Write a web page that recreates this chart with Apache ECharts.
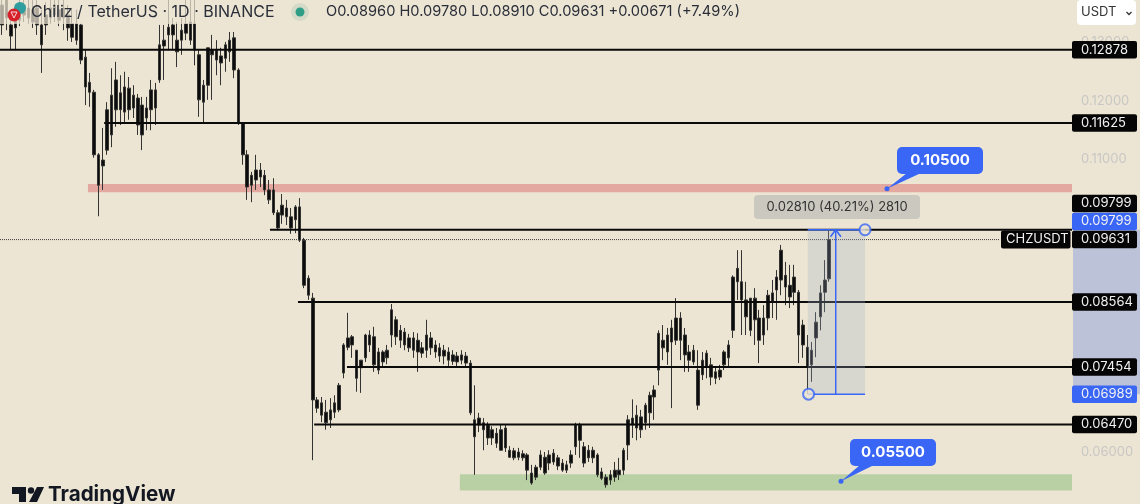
<!DOCTYPE html>
<html>
<head>
<meta charset="utf-8">
<style>
html, body { margin: 0; padding: 0; background: #ece5d3; }
#chart { width: 1140px; height: 504px; }
</style>
<script src="https://cdn.jsdelivr.net/npm/echarts@6/dist/echarts.min.js"></script>
</head>
<body>
<div id="chart"></div>
<script>
// daily candles
var open = [
  0.1364,0.1373,0.1330,0.1342,0.1338,0.1347,0.1359,0.1335,0.1359,0.1330,
  0.1330,0.1342,0.1364,0.1338,0.1359,0.1347,0.1332,0.1332,0.1330,0.1275,
  0.1232,0.1215,0.1108,0.1089,0.1116,0.1142,0.1185,0.1214,0.1181,0.1222,
  0.1188,0.1205,0.1193,0.1171,0.1185,0.1219,0.1236,0.1294,0.1313,0.1330,
  0.1304,0.1304,0.1316,0.1335,0.1332,0.1279,0.1198,0.1227,0.1279,0.1287,
  0.1277,0.1273,0.1284,0.1308,0.1253,0.1162,0.1108,0.1056,0.1065,0.1082,
  0.1073,0.1048,0.1048,0.1009,0.1005,0.1017,0.1002,0.0997,0.1019,0.0962,
  0.0897,0.0863,0.0689,0.0663,0.0668,0.0655,0.0668,0.0672,0.0735,0.0779,
  0.0797,0.0774,0.0744,0.0761,0.0800,0.0797,0.0771,0.0754,0.0761,0.0800,
  0.0826,0.0808,0.0805,0.0795,0.0795,0.0771,0.0778,0.0774,0.0795,0.0783,
  0.0778,0.0764,0.0771,0.0755,0.0764,0.0757,0.0764,0.0752,0.0655,0.0646,
  0.0650,0.0646,0.0624,0.0632,0.0638,0.0607,0.0603,0.0590,0.0600,0.0597,
  0.0595,0.0564,0.0557,0.0574,0.0591,0.0581,0.0583,0.0590,0.0581,0.0569,
  0.0581,0.0609,0.0646,0.0609,0.0590,0.0603,0.0595,0.0566,0.0557,0.0552,
  0.0557,0.0561,0.0569,0.0612,0.0646,0.0663,0.0638,0.0650,0.0667,0.0694,
  0.0740,0.0791,0.0771,0.0812,0.0791,0.0829,0.0800,0.0771,0.0754,0.0740,
  0.0732,0.0745,0.0749,0.0737,0.0728,0.0749,0.0761,0.0808,0.0891,0.0891,
  0.0860,0.0808,0.0863,0.0829,0.0800,0.0829,0.0856,0.0877,0.0894,0.0902,
  0.0885,0.0873,0.0873,0.0817,0.0779,0.0749,0.0795,0.0831,0.0873,0.0896
];
var close = [
  0.1330,0.1342,0.1311,0.1325,0.1356,0.1364,0.1342,0.1356,0.1330,0.1296,
  0.1347,0.1359,0.1347,0.1356,0.1342,0.1325,0.1309,0.1304,0.1270,0.1224,
  0.1215,0.1108,0.1056,0.1099,0.1185,0.1210,0.1236,0.1185,0.1224,0.1185,
  0.1210,0.1159,0.1142,0.1188,0.1219,0.1188,0.1296,0.1304,0.1326,0.1313,
  0.1284,0.1321,0.1332,0.1304,0.1287,0.1202,0.1227,0.1291,0.1287,0.1270,
  0.1265,0.1296,0.1304,0.1253,0.1162,0.1108,0.1053,0.1073,0.1082,0.1070,
  0.1048,0.1031,0.1009,0.0983,0.1022,0.1002,0.0983,0.1019,0.0962,0.0885,
  0.0868,0.0689,0.0675,0.0684,0.0650,0.0672,0.0684,0.0714,0.0783,0.0795,
  0.0783,0.0726,0.0757,0.0800,0.0783,0.0749,0.0740,0.0771,0.0774,0.0843,
  0.0797,0.0791,0.0783,0.0778,0.0774,0.0791,0.0769,0.0800,0.0778,0.0771,
  0.0764,0.0774,0.0757,0.0766,0.0754,0.0766,0.0752,0.0667,0.0626,0.0658,
  0.0638,0.0624,0.0638,0.0615,0.0603,0.0641,0.0591,0.0602,0.0591,0.0590,
  0.0569,0.0547,0.0574,0.0595,0.0564,0.0595,0.0598,0.0576,0.0569,0.0578,
  0.0595,0.0646,0.0620,0.0581,0.0603,0.0590,0.0561,0.0555,0.0544,0.0561,
  0.0569,0.0569,0.0603,0.0655,0.0658,0.0641,0.0660,0.0680,0.0697,0.0706,
  0.0803,0.0778,0.0800,0.0788,0.0829,0.0791,0.0766,0.0757,0.0774,0.0680,
  0.0757,0.0769,0.0728,0.0726,0.0740,0.0771,0.0783,0.0899,0.0914,0.0860,
  0.0831,0.0863,0.0826,0.0791,0.0829,0.0868,0.0872,0.0899,0.0945,0.0882,
  0.0865,0.0899,0.0800,0.0783,0.0745,0.0774,0.0822,0.0872,0.0894,0.09631
];
var low = [
  0.1313,0.1321,0.1287,0.1287,0.1328,0.1335,0.1332,0.1325,0.1313,0.1248,
  0.1313,0.1332,0.1335,0.1328,0.1321,0.1303,0.1301,0.1296,0.1263,0.1193,
  0.1190,0.1103,0.1003,0.1048,0.1108,0.1121,0.1156,0.1159,0.1164,0.1168,
  0.1171,0.1142,0.1116,0.1150,0.1150,0.1159,0.1231,0.1236,0.1287,0.1287,
  0.1258,0.1279,0.1304,0.1296,0.1261,0.1173,0.1164,0.1202,0.1202,0.1244,
  0.1227,0.1250,0.1267,0.1239,0.1159,0.1091,0.1031,0.1027,0.1048,0.1053,
  0.1039,0.1024,0.1005,0.0979,0.0990,0.0988,0.0973,0.0974,0.0959,0.0880,
  0.0860,0.0586,0.0667,0.0651,0.0638,0.0641,0.0658,0.0668,0.0726,0.0774,
  0.0761,0.0703,0.0701,0.0754,0.0771,0.0737,0.0733,0.0747,0.0750,0.0779,
  0.0783,0.0778,0.0774,0.0771,0.0761,0.0737,0.0761,0.0761,0.0766,0.0761,
  0.0754,0.0750,0.0747,0.0749,0.0747,0.0750,0.0747,0.0663,0.0561,0.0634,
  0.0603,0.0612,0.0612,0.0607,0.0603,0.0600,0.0590,0.0586,0.0586,0.0585,
  0.0552,0.0544,0.0552,0.0569,0.0561,0.0569,0.0578,0.0569,0.0566,0.0564,
  0.0573,0.0595,0.0590,0.0574,0.0583,0.0581,0.0557,0.0552,0.0539,0.0544,
  0.0549,0.0552,0.0561,0.0586,0.0624,0.0620,0.0624,0.0638,0.0641,0.0655,
  0.0714,0.0757,0.0749,0.0675,0.0783,0.0757,0.0737,0.0737,0.0749,0.0672,
  0.0723,0.0726,0.0714,0.0716,0.0723,0.0740,0.0745,0.0795,0.0860,0.0800,
  0.0800,0.0798,0.0783,0.0752,0.0783,0.0808,0.0829,0.0826,0.0868,0.0851,
  0.0846,0.0851,0.0752,0.0761,0.0699,0.0720,0.0762,0.0808,0.0839,0.0891
];
var high = [
  0.1373,0.1373,0.1356,0.1366,0.1373,0.1373,0.1373,0.1373,0.1373,0.1356,
  0.1369,0.1373,0.1373,0.1373,0.1373,0.1364,0.1359,0.1356,0.1332,0.1287,
  0.1248,0.1219,0.1111,0.1154,0.1198,0.1256,0.1267,0.1244,0.1250,0.1241,
  0.1227,0.1212,0.1207,0.1207,0.1236,0.1231,0.1330,0.1330,0.1373,0.1342,
  0.1335,0.1342,0.1373,0.1373,0.1373,0.1287,0.1236,0.1291,0.1313,0.1304,
  0.1291,0.1301,0.1318,0.1318,0.1256,0.1162,0.1116,0.1079,0.1108,0.1094,
  0.1082,0.1065,0.1068,0.1014,0.1041,0.1031,0.1017,0.1022,0.1034,0.0966,
  0.0902,0.0872,0.0694,0.0694,0.0689,0.0692,0.0697,0.0718,0.0786,0.0838,
  0.0800,0.0774,0.0757,0.0802,0.0808,0.0814,0.0778,0.0774,0.0783,0.0853,
  0.0832,0.0817,0.0812,0.0802,0.0805,0.0803,0.0788,0.0826,0.0805,0.0791,
  0.0786,0.0783,0.0779,0.0774,0.0771,0.0774,0.0771,0.0757,0.0714,0.0667,
  0.0658,0.0651,0.0644,0.0641,0.0646,0.0646,0.0610,0.0607,0.0607,0.0603,
  0.0598,0.0578,0.0578,0.0603,0.0600,0.0603,0.0605,0.0595,0.0588,0.0585,
  0.0603,0.0650,0.0650,0.0617,0.0612,0.0609,0.0598,0.0573,0.0562,0.0569,
  0.0583,0.0590,0.0607,0.0663,0.0690,0.0680,0.0672,0.0684,0.0703,0.0714,
  0.0808,0.0817,0.0812,0.0826,0.0863,0.0839,0.0812,0.0783,0.0783,0.0774,
  0.0771,0.0774,0.0761,0.0744,0.0749,0.0774,0.0791,0.0902,0.0945,0.0945,
  0.0891,0.0863,0.0880,0.0843,0.0851,0.0877,0.0894,0.0911,0.0954,0.0925,
  0.0920,0.0920,0.0877,0.0826,0.0800,0.0788,0.0839,0.0885,0.0928,0.0978
];

// horizontal levels (price, first candle slot they start from)
var levelPrices = [0.12878, 0.11625, 0.09799, 0.08564, 0.07454, 0.06470];
var levelStarts = [0, 23.8, 61.7, 68.1, 79.3, 71.8];

// drawn zones: start slot, top price, bottom price
var bandStarts = [20.1, 105.1];
var bandTops = [0.1058, 0.0562];
var bandBottoms = [0.1044, 0.0534];
var bandColors = ['#e3a8a0', '#b9d0a5'];

var lastPrice = 0.09631;
var rangeLow = 0.06989;
var rangeHigh = 0.09799;
var rangeStart = 184.6;
var rangeEnd = 197.7;
var rangeArrow = 191;

var slotCount = 245;        // candle slots across the plot, most are still empty on the right
var categories = [];
for (var s = 0; s < slotCount; s++) {
    categories.push(s);
}

var candles = [];
for (var i = 0; i < open.length; i++) {
    candles.push([open[i], close[i], low[i], high[i]]);
}

var blue = '#3a66f5';
var textFont = 'Inter, "Noto Sans", sans-serif';

function flatLine(name, points, color, width, type, z){
    return {
        name: name,
        type: 'line',
        xAxisIndex: 1,
        data: points,
        symbol: 'none',
        silent: true,
        z: z,
        lineStyle: {color: color, width: width, type: type || 'solid'}
    };
}

var series = [{
    type: 'custom',
    xAxisIndex: 1,
    z: 1,
    silent: true,
    data: bandStarts.map(function (start, k){
        return [start, slotCount, bandTops[k], bandBottoms[k], k];
    }),
    renderItem: function (params, api){
        var a = api.coord([api.value(0), api.value(2)]);
        var b = api.coord([api.value(1), api.value(3)]);
        return {
            type: 'rect',
            shape: {x: a[0], y: a[1], width: b[0] - a[0], height: b[1] - a[1]},
            style: {fill: bandColors[api.value(4)]}
        };
    }
}, {
    type: 'candlestick',
    z: 2,
    barWidth: 3,
    data: candles,
    itemStyle: {
        color: '#0c0c0c',
        color0: '#0c0c0c',
        borderColor: '#333331',
        borderColor0: '#333331',
        borderWidth: 1
    }
}];

// levels
for (var j = 0; j < levelPrices.length; j++) {
    series.push(flatLine('level' + j, [[levelStarts[j], levelPrices[j]], [slotCount, levelPrices[j]]], '#0a0a0a', 2, 'solid', 3));
}
// last price dotted line
series.push(flatLine('last', [[0, lastPrice], [228.5, lastPrice]], '#3c3c3c', 1, 'dotted', 3));
// measure box
series.push({
    type: 'custom',
    xAxisIndex: 1,
    z: 4,
    silent: true,
    data: [[rangeStart, rangeEnd, rangeHigh, rangeLow]],
    renderItem: function (params, api){
        var a = api.coord([api.value(0), api.value(2)]);
        var b = api.coord([api.value(1), api.value(3)]);
        return {
            type: 'rect',
            shape: {x: a[0], y: a[1], width: b[0] - a[0], height: b[1] - a[1]},
            style: {fill: 'rgba(160,175,195,0.27)'}
        };
    }
});
series.push(flatLine('rangeTop', [[rangeStart, rangeHigh], [rangeEnd, rangeHigh]], blue, 1.5, 'solid', 5));
series.push(flatLine('rangeBottom', [[rangeStart, rangeLow], [rangeEnd, rangeLow]], blue, 1.5, 'solid', 5));
series.push(flatLine('rangeArrow', [[rangeArrow, rangeLow], [rangeArrow, rangeHigh]], blue, 1.5, 'solid', 5));
series.push(flatLine('rangeHead', [[rangeArrow - 1.2, rangeHigh - 0.0012], [rangeArrow, rangeHigh], [rangeArrow + 1.2, rangeHigh - 0.0012]], blue, 1.5, 'solid', 5));
series.push({
    type: 'scatter',
    xAxisIndex: 1,
    z: 6,
    silent: true,
    symbol: 'circle',
    symbolSize: 11,
    data: [[rangeStart + 0.2, rangeLow], [rangeEnd, rangeHigh]],
    itemStyle: {color: '#ece5d3', borderColor: blue, borderWidth: 2}
});

var chart = echarts.init(document.getElementById('chart'), null, {renderer: 'canvas'});
chart.setOption({
    animation: false,
    backgroundColor: '#ece5d3',
    grid: {left: 0, right: 68, top: -16, height: 526.5, outerBoundsMode: 'none'},
    xAxis: [{
        type: 'category',
        data: categories,
        show: false
    }, {
        type: 'value',
        min: 0,
        max: slotCount,
        show: false
    }],
    yAxis: {
        type: 'value',
        position: 'right',
        min: 0.05,
        max: 0.14,
        interval: 0.01,
        scale: true,
        splitLine: {show: false},
        axisLine: {show: false},
        axisTick: {show: false},
        axisLabel: {
            color: '#c8c7c5',
            fontFamily: textFont,
            fontSize: 13,
            margin: 9,
            formatter: function (v){ return v.toFixed(5); }
        }
    },
    series: series
});

function py(price){
    return chart.convertToPixel({yAxisIndex: 0}, price);
}

// price tag on the right side
function tag(label, cy, color){
    return {
        type: 'group',
        children: [{
            type: 'rect',
            z: 50,
            shape: {x: 1072, y: cy - 8.75, width: 65, height: 17.5, r: 2},
            style: {fill: color}
        }, {
            type: 'text',
            z: 51,
            style: {x: 1081, y: cy, text: label, fill: '#f2f2f2', font: '13px ' + textFont, textVerticalAlign: 'middle'}
        }]
    };
}

// blue callout with a pointer
function callout(label, x, y, tipX, tipY){
    return {
        type: 'group',
        children: [{
            type: 'polygon',
            z: 50,
            shape: {points: [[x + 10, y + 26], [x + 24, y + 26], [tipX, tipY]]},
            style: {fill: blue}
        }, {
            type: 'circle',
            z: 50,
            shape: {cx: tipX, cy: tipY, r: 2.5},
            style: {fill: blue}
        }, {
            type: 'rect',
            z: 50,
            shape: {x: x, y: y, width: 86, height: 27, r: 5},
            style: {fill: blue}
        }, {
            type: 'text',
            z: 51,
            style: {x: x + 43, y: y + 13.5, text: label, fill: '#fff', font: 'bold 15px ' + textFont, textAlign: 'center', textVerticalAlign: 'middle'}
        }]
    };
}

var graphic = [
    // header backdrop
    {type: 'rect', z: 40, shape: {x: 0, y: 0, width: 330, height: 24}, style: {fill: 'rgba(236,229,211,0.72)'}},
    // right axis range highlight
    {type: 'rect', z: 41, shape: {x: 1073, y: py(rangeHigh), width: 67, height: py(rangeLow) - py(rangeHigh)}, style: {fill: '#bcc3d9'}},
    // symbol logo
    {type: 'circle', z: 42, shape: {cx: 20, cy: 8, r: 6}, style: {fill: '#2f9e9f'}},
    {type: 'circle', z: 43, shape: {cx: 14, cy: 15, r: 6.5}, style: {fill: '#d5202a'}},
    {type: 'polygon', z: 44, shape: {points: [[11, 12], [17, 12], [14, 18]]}, style: {fill: 'none', stroke: '#f4d8d8', lineWidth: 1}},
    {type: 'text', z: 45, style: {x: 31, y: 12, text: 'Chiliz / TetherUS · 1D · BINANCE', fill: '#2a2e39', font: '16px ' + textFont, textVerticalAlign: 'middle'}},
    {type: 'circle', z: 45, shape: {cx: 300, cy: 12, r: 9}, style: {fill: 'rgba(46,158,135,0.13)'}},
    {type: 'circle', z: 45, shape: {cx: 300, cy: 12, r: 4.5}, style: {fill: '#2e9e87'}},
    {type: 'text', z: 45, style: {x: 326, y: 12, text: 'O0.08960 H0.09780 L0.08910 C0.09631 +0.00671 (+7.49%)', fill: '#2a2e39', font: '14.6px ' + textFont, textVerticalAlign: 'middle'}},
    // currency box
    {type: 'rect', z: 45, shape: {x: 1077, y: 0, width: 59, height: 25, r: 4}, style: {fill: '#ffffff'}},
    {type: 'text', z: 46, style: {x: 1081, y: 12.5, text: 'USDT', fill: '#333', font: '13px ' + textFont, textVerticalAlign: 'middle'}},
    {type: 'polyline', z: 46, shape: {points: [[1126.5, 12], [1129, 14.5], [1131.5, 12]]}, style: {stroke: '#333', lineWidth: 1.3, fill: 'none'}},
    // measure pill
    {type: 'rect', z: 45, shape: {x: 754, y: 195, width: 166, height: 24, r: 4}, style: {fill: '#cbc8c0'}},
    {type: 'text', z: 46, style: {x: 837, y: 207, text: '0.02810 (40.21%) 2810', fill: '#333', font: '13px ' + textFont, textAlign: 'center', textVerticalAlign: 'middle'}},
    // symbol tag
    {type: 'rect', z: 50, shape: {x: 1001, y: py(lastPrice) - 9, width: 69.5, height: 18, r: 2}, style: {fill: '#050505'}},
    {type: 'text', z: 51, style: {x: 1006, y: py(lastPrice), text: 'CHZUSDT', fill: '#f2f2f2', font: '13px ' + textFont, textVerticalAlign: 'middle'}},
    // tradingview mark
    {type: 'polygon', z: 45, shape: {points: [[12, 487], [26, 487], [26, 502], [19, 502], [19, 494], [12, 494]]}, style: {fill: '#131722'}},
    {type: 'circle', z: 45, shape: {cx: 31, cy: 490.5, r: 3.2}, style: {fill: '#131722'}},
    {type: 'polygon', z: 45, shape: {points: [[37, 487], [44, 487], [37, 502], [29, 502]]}, style: {fill: '#131722'}},
    {type: 'text', z: 45, style: {x: 48, y: 494.5, text: 'TradingView', fill: '#131722', font: 'bold 20.6px ' + textFont, textVerticalAlign: 'middle'}},
    // right side tags
    tag('0.12878', py(0.12878), '#050505'),
    tag('0.11625', py(0.11625), '#050505'),
    tag('0.09799', 203.5, '#050505'),
    tag('0.09799', 221.5, blue),
    tag('0.09631', py(lastPrice), '#050505'),
    tag('0.08564', py(0.08564), '#050505'),
    tag('0.07454', py(0.07454), '#050505'),
    tag('0.06989', py(rangeLow), blue),
    tag('0.06470', py(0.0647), '#050505'),
    callout('0.10500', 897, 147, 887, py(0.105)),
    callout('0.05500', 850, 439, 841, py(0.055))
];
chart.setOption({graphic: graphic});
</script>
</body>
</html>
